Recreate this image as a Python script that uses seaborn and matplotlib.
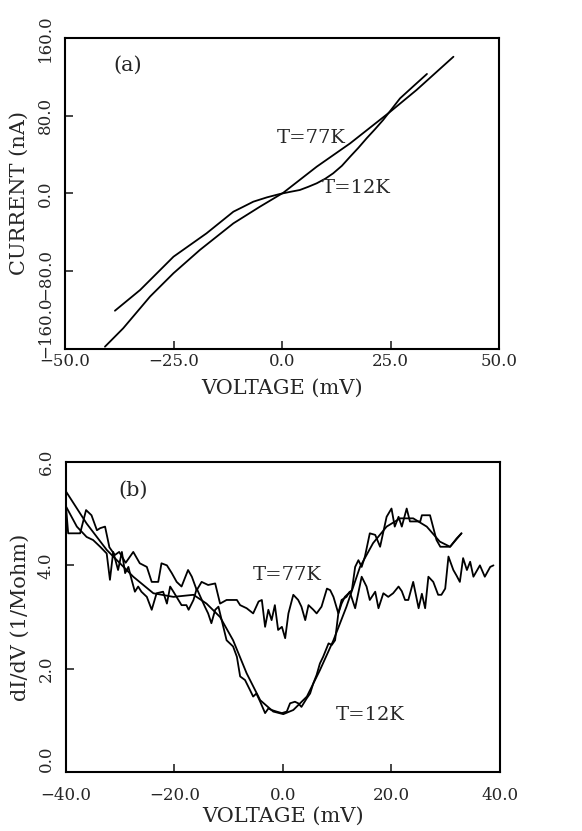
import numpy as np
import pandas as pd
import seaborn as sns
import matplotlib
matplotlib.use("Agg")
import matplotlib.pyplot as plt
from matplotlib.transforms import ScaledTranslation

# ---- panel (a): I-V curves ----
iv_77k_v = [-40.8, -36.6, -30.4, -25.0, -18.9, -11.2, -5.1, 0.3, 8.0, 15.7, 24.9, 31.0, 39.5]
iv_77k_i = [-157.6, -138.7, -106.0, -82.0, -58.0, -30.7, -13.6, 0.8, 27.6, 51.6, 84.0, 106.5, 140.7]

iv_12k_v = [-38.5, -32.7, -25.0, -17.4, -11.2, -9.0, -6.6, -3.5, -0.5, 2.0, 4.1, 6.0, 8.0,
            10.0, 11.8, 13.8, 15.7, 17.6, 19.5, 21.4, 23.3, 27.2, 30.3, 33.4]
iv_12k_i = [-120.6, -99.3, -65.0, -41.0, -18.7, -13.8, -8.4, -4.0, -0.5, 1.8, 3.6, 6.8, 10.5,
            15.3, 20.8, 28.5, 37.9, 47.0, 56.8, 66.0, 75.6, 97.9, 110.5, 123.0]

# ---- panel (b): dI/dV ----
g77_v = [-40.0, -39.6, -37.4, -36.3, -35.3, -34.3, -33.7, -32.8, -32.0, -31.0, -30.2, -29.0,
         -27.6, -26.4, -25.1, -24.2, -23.0, -22.4, -21.4, -20.5, -19.6, -18.7, -17.5, -16.8,
         -15.9, -15.0, -13.8, -12.5, -11.6, -10.4, -8.5, -7.9, -6.7, -5.5, -4.5, -3.9, -3.3,
         -2.7, -2.1, -1.5, -0.9, -0.2, 0.4, 1.0, 1.9, 2.8, 3.4, 4.1, 4.7, 5.6, 6.2, 7.1, 8.1,
         8.7, 9.3, 10.2, 10.8, 11.7, 12.3, 13.3, 14.5, 15.4, 16.0, 17.0, 17.6, 18.5, 19.4,
         20.3, 21.3, 21.9, 22.5, 23.1, 24.0, 25.0, 25.6, 26.2, 26.8, 27.7, 28.6, 29.2, 29.9,
         30.5, 31.4, 32.0, 32.6, 33.2, 33.9, 34.5, 35.1, 36.3, 37.2, 38.2, 38.8]
g77_g = [5.14, 4.62, 4.62, 5.07, 4.97, 4.68, 4.72, 4.75, 4.35, 4.20, 4.26, 4.05,
         4.26, 4.04, 3.97, 3.68, 3.68, 4.04, 4.00, 3.85, 3.68, 3.59, 3.91, 3.78,
         3.52, 3.68, 3.62, 3.65, 3.26, 3.33, 3.33, 3.23, 3.17, 3.07, 3.30, 3.33, 2.81,
         3.14, 2.94, 3.23, 2.75, 2.81, 2.59, 3.07, 3.43, 3.33, 3.20, 2.94, 3.23, 3.14, 3.07, 3.20, 3.55,
         3.52, 3.39, 3.07, 3.33, 3.39, 3.49, 3.17, 3.78, 3.59, 3.33, 3.49, 3.17, 3.46, 3.39,
         3.46, 3.59, 3.50, 3.33, 3.33, 3.68, 3.17, 3.45, 3.17, 3.78, 3.68, 3.43, 3.43, 3.55,
         4.17, 3.91, 3.80, 3.68, 4.14, 3.91, 4.07, 3.78, 4.00, 3.78, 3.97, 4.00]

g12_v = [-40.0, -38.0, -36.2, -35.0, -33.7, -32.5, -31.9, -31.3, -30.4, -29.7, -29.1, -28.5,
         -27.9, -27.3, -26.7, -26.1, -25.1, -24.2, -23.3, -22.1, -21.4, -20.8, -20.2, -18.7,
         -17.8, -17.4, -16.5, -15.9, -14.4, -13.8, -13.2, -12.5, -11.9, -10.4, -9.2, -8.5,
         -7.9, -7.0, -6.1, -5.5, -4.9, -4.2, -3.3, -2.7, -2.1, -1.2, -0.2, 0.7, 1.3, 2.2,
         2.8, 3.4, 4.4, 5.0, 5.6, 6.2, 6.8, 7.4, 8.4, 9.0, 9.6, 10.2, 10.8, 11.4, 12.7,
         13.3, 13.9, 14.5, 15.1, 16.0, 17.0, 17.9, 19.1, 20.0, 20.6, 21.3, 21.9, 22.8, 23.4,
         25.3, 25.6, 27.1, 28.3, 29.0, 30.8, 32.0, 32.9]
g12_g = [5.14, 4.75, 4.55, 4.49, 4.36, 4.23, 3.72, 4.26, 3.91, 4.26, 3.85, 3.97,
         3.72, 3.49, 3.59, 3.49, 3.39, 3.14, 3.46, 3.49, 3.26, 3.59, 3.49, 3.23,
         3.23, 3.14, 3.33, 3.55, 3.20, 3.07, 2.88, 3.14, 3.20, 2.55, 2.43, 2.23,
         1.85, 1.78, 1.59, 1.46, 1.52, 1.36, 1.14, 1.23, 1.20, 1.17, 1.14, 1.17, 1.33, 1.36,
         1.33, 1.26, 1.43, 1.52, 1.72, 1.88, 2.10, 2.23, 2.49, 2.46, 2.55, 3.07, 3.26, 3.39, 3.52,
         3.97, 4.10, 3.97, 4.17, 4.62, 4.59, 4.36, 4.94, 5.10, 4.75, 4.94, 4.75, 5.10, 4.85,
         4.85, 4.97, 4.97, 4.49, 4.36, 4.36, 4.52, 4.62]

fit12_v = [-40.0, -36.2, -32.5, -27.6, -23.9, -20.2, -16.5, -14.1, -11.6, -9.2, -6.7, -4.2,
           -1.8, 0.06, 1.9, 4.4, 6.8, 9.3, 11.7, 14.2, 16.6, 19.1, 21.6, 24.0, 26.5, 28.9,
           30.8, 32.9]
fit12_g = [5.43, 4.81, 4.30, 3.78, 3.46, 3.39, 3.43, 3.26, 3.00, 2.55, 1.91, 1.39,
           1.17, 1.12, 1.20, 1.46, 1.97, 2.55, 3.20, 3.97, 4.43, 4.75, 4.91, 4.91, 4.75, 4.46,
           4.36, 4.62]

sns.set_style("ticks")
plt.rcParams["font.family"] = ["DejaVu Serif"]

fig = plt.figure(figsize=(5.82, 8.31), dpi=100)
ax1 = fig.add_axes([0.1117, 0.58, 0.7457, 0.3743])
ax2 = fig.add_axes([0.1134, 0.071, 0.7457, 0.373])

line_kw = dict(color="black", linewidth=1.3, sort=False, estimator=None)

sns.lineplot(x=iv_77k_v, y=iv_77k_i, ax=ax1, **line_kw)
sns.lineplot(x=iv_12k_v, y=iv_12k_i, ax=ax1, **line_kw)

sns.lineplot(x=g77_v, y=g77_g, ax=ax2, **line_kw)
sns.lineplot(x=g12_v, y=g12_g, ax=ax2, **line_kw)
sns.lineplot(x=fit12_v, y=fit12_g, ax=ax2, **line_kw)

ax1.set_xlim(-50, 50)
ax1.set_ylim(-160, 160)
ax1.set_xticks([-50, -25, 0, 25, 50])
ax1.set_yticks([-160, -80, 0, 80, 160])
ax1.set_xticklabels(["\u221250.0", "\u221225.0", "0.0", "25.0", "50.0"])
ax1.set_yticklabels(["\u2212160.0", "\u221280.0", "0.0", "80.0", "160.0"])
ax1.set_xlabel("VOLTAGE (mV)", fontsize=15)
ax1.set_ylabel("CURRENT (nA)", fontsize=15)
ax1.text(-35.5, 132, "(a)", fontsize=15, ha="center", va="center")
ax1.text(6.8, 57, "T=77K", fontsize=14, ha="center", va="center")
ax1.text(17.2, 5.7, "T=12K", fontsize=14, ha="center", va="center")

ax2.set_xlim(-40, 40)
ax2.set_ylim(0, 6)
ax2.set_xticks([-40, -20, 0, 20, 40])
ax2.set_yticks([0, 2, 4, 6])
ax2.set_xticklabels(["\u221240.0", "\u221220.0", "0.0", "20.0", "40.0"])
ax2.set_yticklabels(["0.0", "2.0", "4.0", "6.0"])
ax2.set_xlabel("VOLTAGE (mV)", fontsize=15)
ax2.set_ylabel("dI/dV (1/Mohm)", fontsize=15)
ax2.text(-27.7, 5.46, "(b)", fontsize=15, ha="center", va="center")
ax2.text(0.7, 3.81, "T=77K", fontsize=14, ha="center", va="center")
ax2.text(16.0, 1.10, "T=12K", fontsize=14, ha="center", va="center")

for ax in (ax1, ax2):
    for sp in ax.spines.values():
        sp.set_linewidth(1.5)
        sp.set_color("black")
    ax.tick_params(direction="in", length=6, width=1.2, labelsize=12)
    ax.tick_params(axis="y", pad=8)
    for lab in ax.get_yticklabels():
        lab.set_rotation(90)
        lab.set_va("center")
    # lowest y label sits above its tick, clear of the x labels
    ax.get_yticklabels()[0].set_va("bottom")
    ax.yaxis.labelpad = 6

# in (a) the long -160.0 label hangs a little below the axis, as in the original
low = ax1.get_yticklabels()[0]
low.set_transform(low.get_transform() + ScaledTranslation(0, -0.09, fig.dpi_scale_trans))
ax1.get_yticklabels()[1].set_transform(
    ax1.get_yticklabels()[1].get_transform() + ScaledTranslation(0, -0.03, fig.dpi_scale_trans))

ax1.tick_params(axis="x", pad=3)
ax1.xaxis.labelpad = 6
ax2.tick_params(axis="x", pad=11)
ax2.xaxis.labelpad = 2

fig.savefig("out.png", dpi=100)
